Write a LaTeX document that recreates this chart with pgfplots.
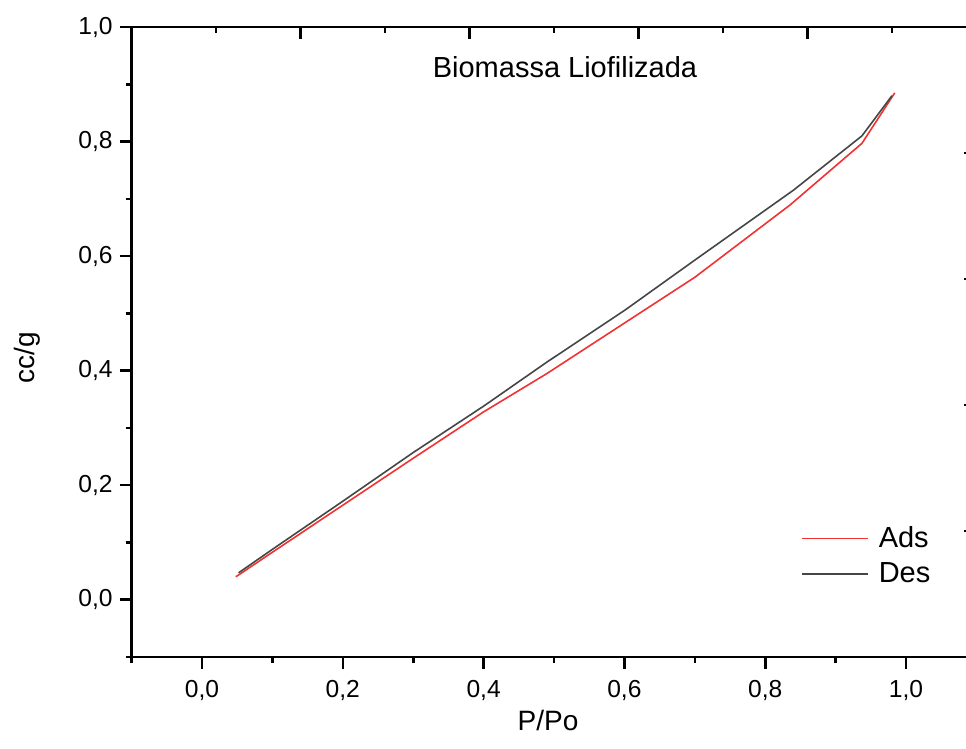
\documentclass[border=0pt]{standalone}
\usepackage{fontspec}
\setmainfont{Liberation Sans}
\usepackage{pgfplots}
\pgfplotsset{compat=1.18}

\definecolor{adsred}{RGB}{240,50,50}
\definecolor{desgray}{RGB}{70,70,70}

\begin{document}
\begin{tikzpicture}
\begin{axis}[
    scale only axis,
    width=422.4pt, height=315pt,
    xmin=-0.1, xmax=1.1,
    ymin=-0.1, ymax=1.0,
    xtick={0,0.2,0.4,0.6,0.8,1.0},
    ytick={0,0.2,0.4,0.6,0.8,1.0},
    minor xtick={-0.1,0.1,0.3,0.5,0.7,0.9,1.1},
    minor ytick={-0.1,0.1,0.3,0.5,0.7,0.9},
    xtick pos=bottom, ytick pos=left,
    tick align=outside,
    major tick length=6pt, minor tick length=3pt,
    axis line style={line width=1.4pt},
    every tick/.style={line width=1.3pt, black},
    /pgf/number format/.cd, use comma, fixed, fixed zerofill, precision=1, assume math mode=true,
    /pgfplots/.cd,
    tick label style={font=\fontsize{12.3}{14}\selectfont},
    xticklabel style={yshift=-2pt},
    xlabel={P/Po}, ylabel={cc/g},
    label style={font=\fontsize{14}{16}\selectfont},
    xlabel style={at={(axis description cs:0.493,-0.1)}, anchor=center},
    ylabel style={at={(axis description cs:-0.124,0.475)}, anchor=center},
    legend style={draw=none, fill=none, at={(axis description cs:0.785,0.2206)}, anchor=north west,
        font=\fontsize{14.5}{17}\selectfont, row sep=2pt,
        nodes={inner xsep=5pt}},
    legend cell align=left,
    legend image code/.code={\draw[#1] (0pt,0pt) -- (33pt,0pt);},
]
\addplot[adsred, line width=0.8pt] coordinates {
    (0.048,0.040) (0.10,0.083) (0.20,0.165) (0.30,0.247) (0.40,0.328)
    (0.49,0.395) (0.60,0.483) (0.70,0.563) (0.835,0.689) (0.9375,0.797) (0.984,0.885)
};
\addlegendentry{Ads}
\addplot[desgray, line width=0.8pt] coordinates {
    (0.052,0.047) (0.10,0.088) (0.20,0.172) (0.30,0.257) (0.40,0.338)
    (0.49,0.415) (0.60,0.505) (0.70,0.593) (0.84,0.715) (0.9375,0.810) (0.980,0.880)
};
\addlegendentry{Des}
\node[font=\fontsize{14.5}{17}\selectfont] at (rel axis cs:0.513,0.937) {Biomassa Liofilizada};
\coordinate (bl) at (rel axis cs:-0.1558,-0.146);
\coordinate (tr) at (rel axis cs:0.9877,1.0429);
\end{axis}
% opposite axes with their own tick spacing
\begin{axis}[
    scale only axis,
    width=422.4pt, height=315pt,
    xmin=0, xmax=5, ymin=0, ymax=5,
    xtick={1,2,3,4}, ytick={1,2,3,4},
    minor xtick={0.5,1.5,2.5,3.5,4.5},
    minor ytick={0.5,1.5,2.5,3.5,4.5},
    xtick pos=top, ytick pos=right,
    tick align=inside,
    major tick length=6pt, minor tick length=3pt,
    xticklabels={}, yticklabels={},
    axis line style={line width=1.4pt},
    every tick/.style={line width=1.3pt, black},
]
\end{axis}
\pgfresetboundingbox
\useasboundingbox (bl) rectangle (tr);
\end{tikzpicture}
\end{document}
